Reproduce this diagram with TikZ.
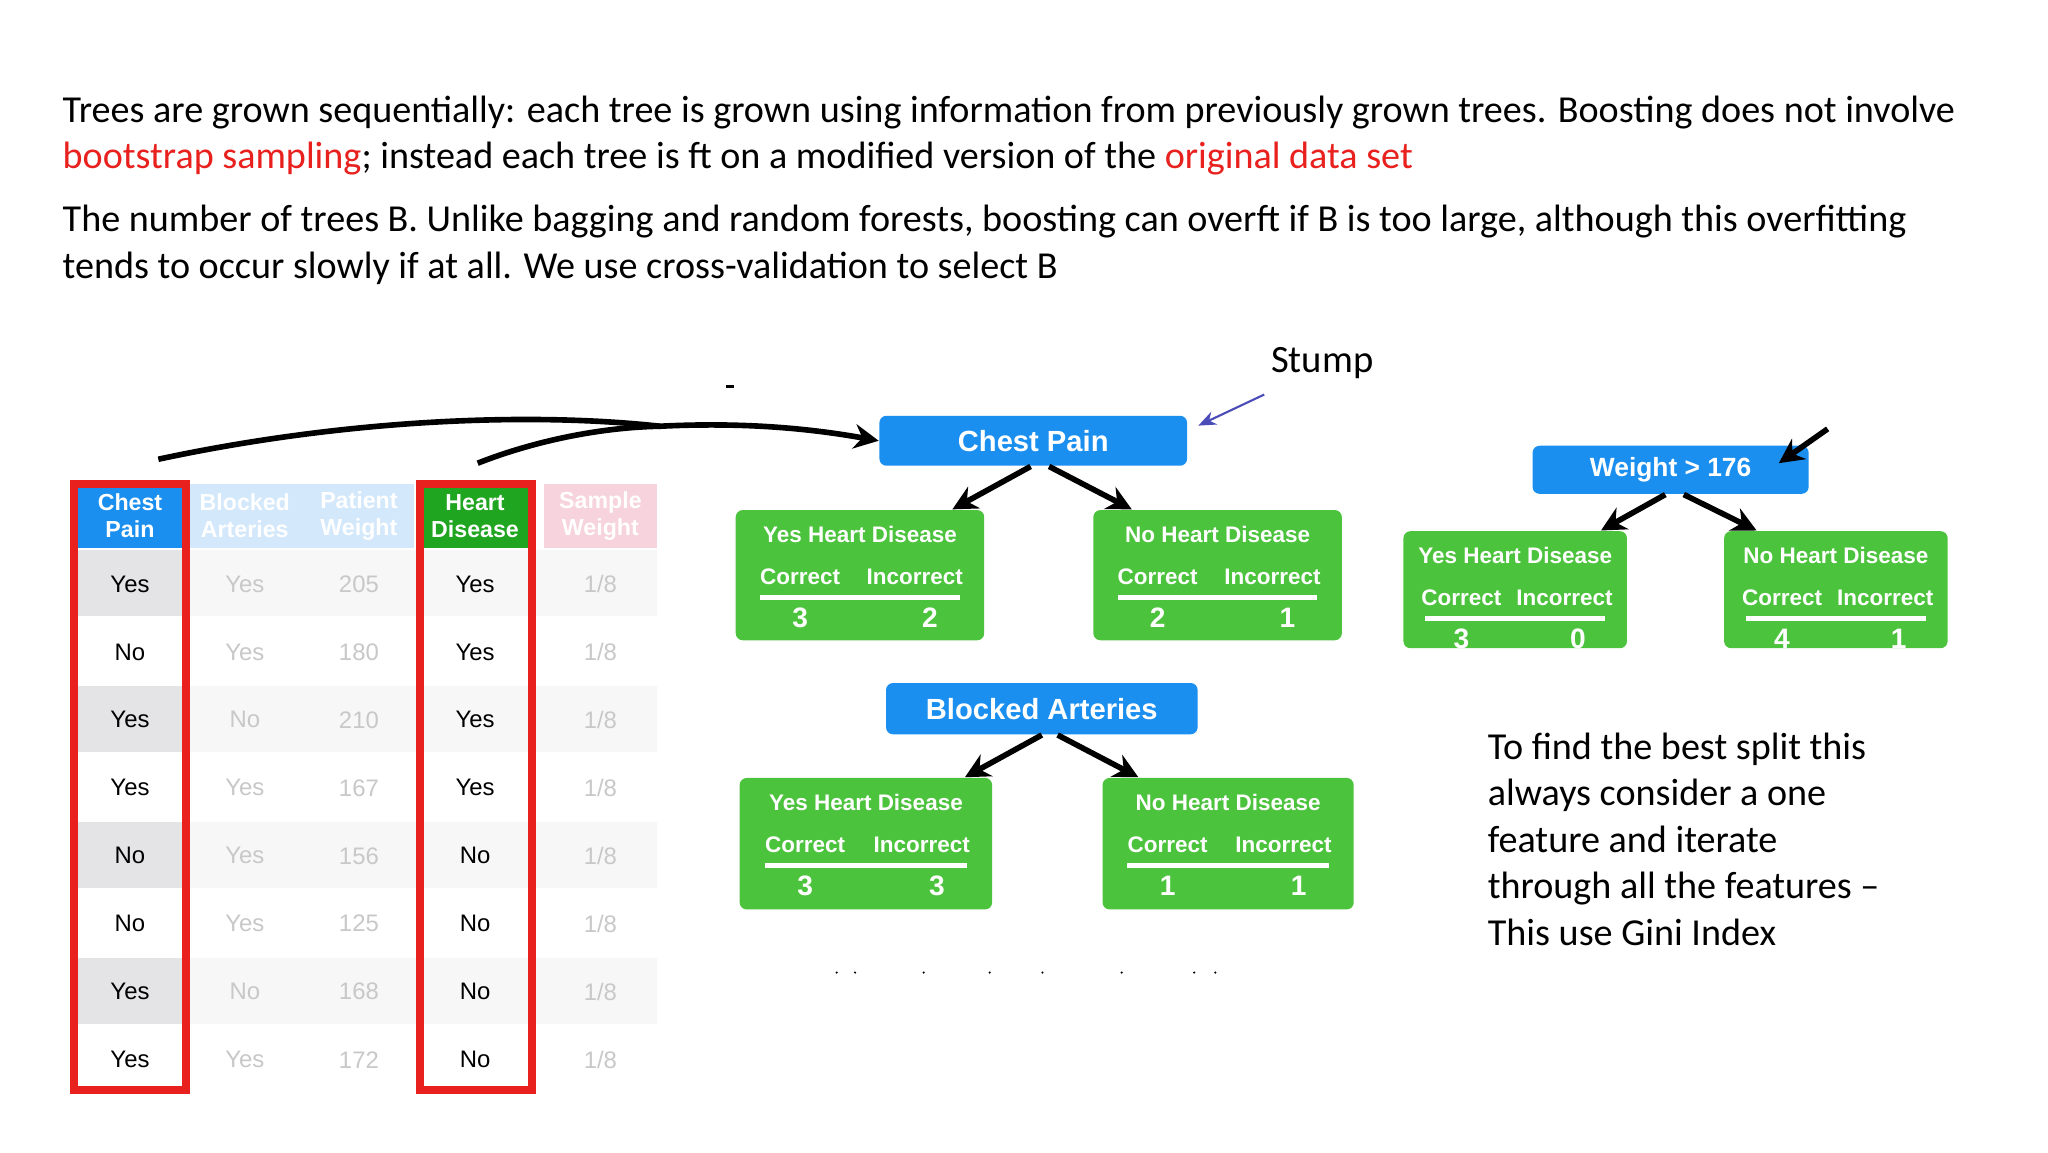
\documentclass[tikz,border=0pt]{standalone}
\usepackage{fontspec}
\setmainfont{Carlito}
\newfontfamily\hv{Liberation Sans}
\usetikzlibrary{arrows.meta}
\definecolor{bblue}{HTML}{1A8FEF}
\definecolor{bgreen}{HTML}{4CC33C}
\definecolor{hgreen}{HTML}{1FA51F}
\definecolor{tred}{HTML}{E8201E}
\definecolor{rowg}{HTML}{E4E4E6}
\definecolor{faint}{HTML}{C8C8C8}
\definecolor{lblue}{HTML}{D4E8FB}
\definecolor{lpink}{HTML}{F6D3DD}
\begin{document}
\begin{tikzpicture}[x=0.0132cm,y=-0.0132cm,
  txt/.style={font=\fontsize{10.85}{13.2}\selectfont,anchor=west,inner sep=0},
  bluebox/.style={fill=bblue,rounded corners=2pt,text=white,font=\hv\bfseries\fontsize{8.3}{10}\selectfont},
  greenbox/.style={fill=bgreen,rounded corners=2pt},
  gtxt/.style={text=white,font=\hv\bfseries\fontsize{6.4}{7}\selectfont,inner sep=0},
  gnum/.style={text=white,font=\hv\bfseries\fontsize{8}{9}\selectfont,inner sep=0},
  tarr/.style={-{Stealth[length=7pt,width=7pt]},line width=1.6pt},
  cell/.style={font=\hv\fontsize{6.8}{8}\selectfont,inner sep=0},
  hdr/.style={font=\hv\bfseries\fontsize{6.6}{7.6}\selectfont,align=center,inner sep=0,text=white}]
\useasboundingbox (0,0) rectangle (1552,873);
\fill[white] (0,0) rectangle (1552,873);
% top text
\node[txt] (l1) at (47,85) {Trees are grown sequentially: each tree is grown using information from previously grown trees. Boosting does not involve};
\node[txt] (l2) at (47,120) {\textcolor{tred}{bootstrap sampling}; instead each tree is ft on a modified version of the \textcolor{tred}{original data set}};
\node[txt] (l3) at (47,168) {The number of trees B. Unlike bagging and random forests, boosting can overft if B is too large, although this overfitting};
\node[txt] (l4) at (47,203) {tends to occur slowly if at all. We use cross-validation to select B};
% table
\fill[bblue] (57,367) rectangle (140,415);
\fill[lblue] (143,367) rectangle (314,415);
\fill[hgreen] (318,367) rectangle (402,415);
\fill[lpink] (412,367) rectangle (498,415);
\node[hdr] (h1) at (98.5,391) {Chest\\Pain};
\node[hdr] (h2) at (185.5,391) {Blocked\\Arteries};
\node[hdr] (h3) at (272,391) {Patient\\Weight};
\node[hdr] (h4) at (360,391) {Heart\\Disease};
\node[hdr] (h5) at (455,391) {Sample\\Weight};
\foreach \i/\a/\b/\c/\d in {0/Yes/Yes/205/Yes,1/No/Yes/180/Yes,2/Yes/No/210/Yes,3/Yes/Yes/167/Yes,4/No/Yes/156/No,5/No/Yes/125/No,6/Yes/No/168/No,7/Yes/Yes/172/No}{
  \pgfmathsetmacro\yt{417+51.5*\i}
  \pgfmathsetmacro\yc{\yt+25.5}
  \pgfmathtruncatemacro\odd{mod(\i,2)}
  \ifnum\odd=0
    \fill[rowg] (57,\yt) rectangle (140,\yt+50);
    \fill[rowg] (318,\yt) rectangle (402,\yt+50);
    \fill[black!3] (143,\yt) rectangle (498,\yt+50);
  \fi
  \node[cell] (c1\i) at (98.5,\yc) {\a};
  \node[cell,text=faint] (c2\i) at (185.5,\yc) {\b};
  \node[cell,text=faint] (c3\i) at (272,\yc) {\c};
  \node[cell] (c4\i) at (360,\yc) {\d};
  \node[cell,text=faint] (c5\i) at (455,\yc) {1/8};
}
\draw[tred,line width=2.2pt] (56,367) rectangle (141,826);
\draw[tred,line width=2.2pt] (318,367) rectangle (403,826);
% curved arrows
\coordinate (s1) at (120,348);
\coordinate (s2) at (362,351);
\coordinate (j) at (500,323);
\draw[line width=1.6pt] (s1) .. controls (260,318) and (400,312) .. (j);
\draw[line width=1.6pt] (s2) .. controls (400,336) and (450,324) .. (j);
\draw[line width=0.8pt] (550,293) -- (556,293);
% stump
\node[bluebox,minimum width={234*0.3742pt},minimum height={38*0.3742pt}] (cp) at (783,334) {Chest Pain};
\draw[tarr] (j) .. controls (560,320) and (610,324) .. (cp.west);
\node[font=\fontsize{11}{13}\selectfont] (stump) at (1002,275) {Stump};
\draw[-{Stealth[length=5pt,width=4pt]},draw=blue!60!black!70,line width=0.6pt] (958,299) -- ([xshift=3pt,yshift=-3pt]cp.north east);
% macro for green box
\newcommand\mygbox[8]{%
  \node[greenbox,minimum width={#3*0.3742pt},minimum height={#4*0.3742pt},anchor=north west] (#8) at (#1,#2) {};
  \node[gtxt] (#8t) at ([yshift=-0.0132cm*19]#8.north) {#5};
  \node[gtxt] (#8c) at ([yshift=-0.0132cm*51,xshift=-0.0132cm*(#3*0.24)]#8.north) {Correct};
  \node[gtxt] (#8i) at ([yshift=-0.0132cm*51,xshift=0.0132cm*(#3*0.22)]#8.north) {Incorrect};
  \draw[white,line width=1.4pt] ([yshift=-0.0132cm*67,xshift=-0.0132cm*(#3*0.4)]#8.north) -- ([yshift=-0.0132cm*67,xshift=0.0132cm*(#3*0.4)]#8.north);
  \node[gnum] (#8a) at ([yshift=-0.0132cm*82,xshift=-0.0132cm*(#3*0.24)]#8.north) {#6};
  \node[gnum] (#8b) at ([yshift=-0.0132cm*82,xshift=0.0132cm*(#3*0.28)]#8.north) {#7};
}
\mygbox{557}{386}{189}{99}{Yes Heart Disease}{3}{2}{y1}
\mygbox{828}{386}{189}{99}{No Heart Disease}{2}{1}{n1}
\draw[tarr] ([xshift=-0.0132cm*2]cp.south) -- ([xshift=0.0132cm*70]y1.north);
\draw[tarr] ([xshift=0.0132cm*12]cp.south) -- ([xshift=-0.0132cm*65]n1.north);
\node[bluebox,minimum width={237*0.3742pt},minimum height={39*0.3742pt}] (ba) at (789.5,537) {Blocked Arteries};
\mygbox{560}{589}{192}{100}{Yes Heart Disease}{3}{3}{y2}
\mygbox{835}{589}{191}{100}{No Heart Disease}{1}{1}{n2}
\draw[tarr] ([xshift=0.0132cm*0]ba.south) -- ([xshift=0.0132cm*75]y2.north);
\draw[tarr] ([xshift=0.0132cm*12]ba.south) -- ([xshift=-0.0132cm*68]n2.north);
\node[bluebox,minimum width={210*0.3742pt},minimum height={36*0.3742pt},font=\hv\bfseries\fontsize{7.5}{9}\selectfont] (wt) at (1266,356) {Weight > 176};
\mygbox{1063}{402}{170}{89}{Yes Heart Disease}{3}{0}{y3}
\mygbox{1306}{402}{170}{89}{No Heart Disease}{4}{1}{n3}
\draw[tarr] ([xshift=-0.0132cm*4]wt.south) -- ([xshift=0.0132cm*65]y3.north);
\draw[tarr] ([xshift=0.0132cm*10]wt.south) -- ([xshift=-0.0132cm*60]n3.north);
\coordinate (wa) at (1385,325);
\draw[tarr] (wa) -- (1348,351);
% dots fragment
\foreach \x in {634,648,700,750,790,850,905,921} \fill (\x,737) circle (0.9);
% right text
\node[txt,align=left,anchor=north west,font=\fontsize{10.85}{13.2}\selectfont] (rt) at (1127,555) {To find the best split this\\always consider a one\\feature and iterate\\through all the features --\\This use Gini Index};
\end{tikzpicture}
\end{document}
